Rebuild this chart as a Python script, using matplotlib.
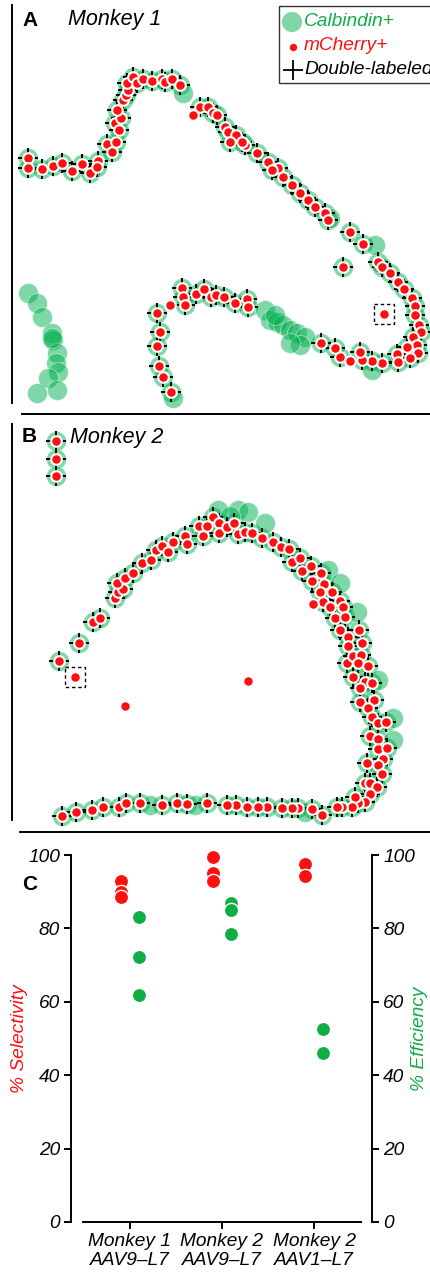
import numpy as np
import matplotlib.pyplot as plt
from matplotlib.patches import Rectangle

plt.rcParams['font.family'] = ['Liberation Sans', 'DejaVu Sans']

W, H = 430, 1279

RED = '#ff1010'
GREEN = '#00b050'
GREEN_DOT = '#0fad45'

# ---- panel A: cell positions (image pixel coords) ----
a_double = [
    (28, 158), (28, 168), (42, 169), (53, 166), (62, 163), (72, 171), (82, 164), (90, 173),
    (98, 161), (97, 167), (107, 144), (112, 152), (116, 142), (115, 123), (121, 118),
    (119, 130), (117, 110), (123, 100), (126, 95), (128, 90), (127, 83), (133, 77), (137, 83),
    (143, 79), (152, 81), (162, 79), (165, 82), (172, 79), (180, 85),
    (200, 107), (208, 107), (213, 113), (217, 115), (225, 127), (228, 132), (236, 135),
    (230, 142), (245, 145), (242, 142), (257, 153), (268, 162), (278, 168), (272, 170),
    (283, 177), (292, 185), (300, 193), (308, 200), (315, 207), (325, 213), (328, 220),
    (350, 232), (363, 244), (378, 262), (382, 267), (390, 273), (398, 282), (404, 289),
    (412, 298), (415, 306), (415, 315), (419, 325), (421, 332), (413, 337), (417, 345),
    (407, 347), (418, 353), (410, 358), (397, 354), (398, 362), (382, 363), (372, 361),
    (362, 360), (360, 352), (340, 357), (335, 348), (321, 343),
    (343, 267),
    (157, 313), (160, 332), (157, 346), (159, 366), (163, 377), (171, 392), (182, 288),
    (183, 297), (185, 305), (196, 294), (204, 289), (211, 297), (216, 295), (224, 297),
    (235, 303), (247, 299), (248, 307),
]
a_calb = [
    (28, 293), (37, 303), (42, 317), (52, 333), (53, 340), (57, 353), (56, 363), (58, 372),
    (48, 378), (57, 390), (37, 393), (52, 338),
    (265, 310), (270, 320), (277, 322), (283, 325), (290, 330), (297, 333), (305, 337),
    (300, 345), (290, 343), (275, 315),
    (183, 93), (372, 370), (375, 245), (330, 218), (173, 398),
]
a_mch = [(193, 115), (170, 305), (350, 361), (384, 314)]

# ---- panel B ----
b_double = [
    (56, 441), (56, 459), (56, 476),
    (59, 661), (79, 643), (93, 622), (100, 618),
    (115, 598), (118, 592), (123, 589), (117, 583), (125, 578), (133, 573), (142, 563),
    (151, 560), (156, 550), (162, 546), (168, 552), (173, 542), (185, 536), (187, 544),
    (199, 526), (203, 536), (207, 526), (213, 517), (219, 523), (219, 533), (227, 527),
    (234, 523), (238, 534), (245, 532), (252, 533), (262, 538), (273, 542), (281, 547),
    (289, 549), (292, 562), (300, 558), (302, 571), (311, 566), (321, 573), (312, 581),
    (324, 584), (332, 592), (320, 592), (323, 602), (330, 607), (340, 601), (343, 607),
    (335, 618), (345, 617),
    (340, 630), (348, 637), (359, 630), (362, 643), (348, 646), (347, 663), (353, 656),
    (361, 655), (358, 663), (368, 666), (353, 677), (365, 682), (372, 683), (360, 688),
    (360, 702), (374, 700), (368, 708), (372, 717), (378, 723), (386, 722), (370, 736),
    (378, 739), (378, 749), (387, 748), (383, 759), (367, 763), (378, 765), (382, 774),
    (365, 783), (370, 783), (377, 787), (370, 794), (365, 802), (358, 803), (355, 797),
    (352, 807), (342, 807), (337, 807), (322, 815), (312, 809), (298, 808), (292, 808),
    (282, 808), (267, 807), (258, 807), (247, 807), (236, 805), (227, 805),
    (62, 816), (76, 812), (92, 810), (103, 807), (119, 807), (126, 803), (140, 803),
    (162, 805), (177, 803), (187, 804), (207, 803),
]
b_calb = [
    (218, 510), (238, 510), (248, 512), (265, 523), (328, 570), (340, 583), (357, 612),
    (378, 680), (393, 718), (393, 740), (230, 516), (150, 805), (195, 805), (305, 812),
]
b_mch = [(313, 604), (248, 681), (125, 706), (75, 677)]

boxed = [(384, 314), (75, 677)]

# ---- panel C ----
groups = ['Monkey 1\nAAV9\u2013L7', 'Monkey 2\nAAV9\u2013L7', 'Monkey 2\nAAV1\u2013L7']
selectivity = [[93, 90, 88.5], [99.5, 95, 93], [97.5, 94.3]]
efficiency = [[83.2, 72.1, 61.9], [86.9, 85, 78.5], [52.6, 46]]


def draw_cells(ax, double, calb, mch):
    d = np.array(double)
    c = np.array(calb)
    m = np.array(mch)
    green = np.vstack([d, c])
    ax.scatter(green[:, 0], green[:, 1], s=205, color=GREEN, alpha=0.5,
               edgecolors='white', linewidths=0.6, zorder=2)
    ax.scatter(d[:, 0], d[:, 1], s=225, marker='+', color='black',
               linewidths=1.4, zorder=3)
    red = np.vstack([d, m])
    ax.scatter(red[:, 0], red[:, 1], s=58, color=RED, edgecolors='white',
               linewidths=1.5, zorder=4)


fig = plt.figure(figsize=(W / 100, H / 100), dpi=100)
ov = fig.add_axes([0, 0, 1, 1])
ov.set_xlim(0, W)
ov.set_ylim(H, 0)
ov.axis('off')

# frame lines
ov.plot([12, 12], [5, 403], color='black', lw=1.4)
ov.plot([22, 432], [414, 414], color='black', lw=1.4)
ov.plot([12, 12], [424, 820], color='black', lw=1.4)
ov.plot([20, 432], [832, 832], color='black', lw=1.4)

draw_cells(ov, a_double, a_calb, a_mch)
draw_cells(ov, b_double, b_calb, b_mch)

for bx, by in boxed:
    ov.add_patch(Rectangle((bx - 10, by - 10), 20, 20, fill=False, ec='black',
                           lw=1.0, ls=(0, (2.5, 2)), zorder=5))

ov.text(22, 20, 'A', fontsize=15, fontweight='bold', va='center')
ov.text(68, 20, 'Monkey 1', fontsize=15.5, style='italic', va='center')
ov.text(22, 437, 'B', fontsize=15, fontweight='bold', va='center')
ov.text(70, 437, 'Monkey 2', fontsize=15.5, style='italic', va='center')
ov.text(22, 885, 'C', fontsize=15, fontweight='bold', va='center')

# legend box
ov.add_patch(Rectangle((279, 6), 170, 77, fill=False, ec='#333333', lw=1.0,
                       clip_on=False, zorder=5))
ov.scatter([292], [22], s=210, color=GREEN, alpha=0.5, edgecolors='none', zorder=6)
ov.scatter([293], [47], s=40, color=RED, edgecolors='white', linewidths=1.0, zorder=6)
ov.scatter([293], [70], s=210, marker='+', color='black', linewidths=1.3, zorder=6)
ov.text(304, 22, 'Calbindin+', fontsize=13.8, style='italic', color=GREEN_DOT, va='center')
ov.text(304, 46, 'mCherry+', fontsize=13.8, style='italic', color=RED, va='center')
ov.text(304, 70, 'Double-labeled', fontsize=13.8, style='italic', color='black', va='center')

# ---- panel C axes ----
axc = fig.add_axes([71 / W, (H - 1222) / H, 301 / W, 367 / H])
axc.set_xlim(0.36, 3.63)
axc.set_ylim(0, 100)
for i in range(len(groups)):
    xs = np.full(len(selectivity[i]), i + 1 - 0.1)
    axc.scatter(xs, selectivity[i], s=105, color=RED, edgecolors='white',
                linewidths=1.0, zorder=3, clip_on=False)
    xg = np.full(len(efficiency[i]), i + 1 + 0.1)
    axc.scatter(xg, efficiency[i], s=105, color=GREEN_DOT, edgecolors='white',
                linewidths=1.0, zorder=3, clip_on=False)

axc.spines['top'].set_visible(False)
axc.spines['right'].set_visible(False)
axc.spines['left'].set_linewidth(1.4)
axc.spines['bottom'].set_linewidth(1.4)
axc.spines['bottom'].set_bounds(0.49, 3.51)
axc.set_xticks([1, 2, 3])
axc.set_xticklabels(groups, fontsize=13.8, style='italic', linespacing=1.15)
axc.set_yticks(range(0, 101, 20))
axc.set_yticklabels([str(v) for v in range(0, 101, 20)], fontsize=13.8, style='italic')
axc.tick_params(direction='out', length=5, width=1.4, pad=3)
axc.set_ylabel('% Selectivity', color=RED, fontsize=13.8, style='italic')
axc.yaxis.set_label_coords(-(71 - 20) / 301, 0.5)
axc.yaxis.label.set_va('center')

axr = axc.twinx()
axr.set_ylim(0, 100)
for s in ['top', 'left', 'bottom']:
    axr.spines[s].set_visible(False)
axr.spines['right'].set_linewidth(1.4)
axr.set_yticks(range(0, 101, 20))
axr.set_yticklabels([str(v) for v in range(0, 101, 20)], fontsize=13.8, style='italic')
axr.tick_params(direction='out', length=5, width=1.4, pad=3)
axr.set_ylabel('% Efficiency', color=GREEN_DOT, fontsize=13.8, style='italic',
               rotation=90)
axr.yaxis.set_label_coords((419 - 71) / 301, 0.5)
axr.yaxis.label.set_va('center')

fig.savefig('out.png', dpi=100, facecolor='white')
